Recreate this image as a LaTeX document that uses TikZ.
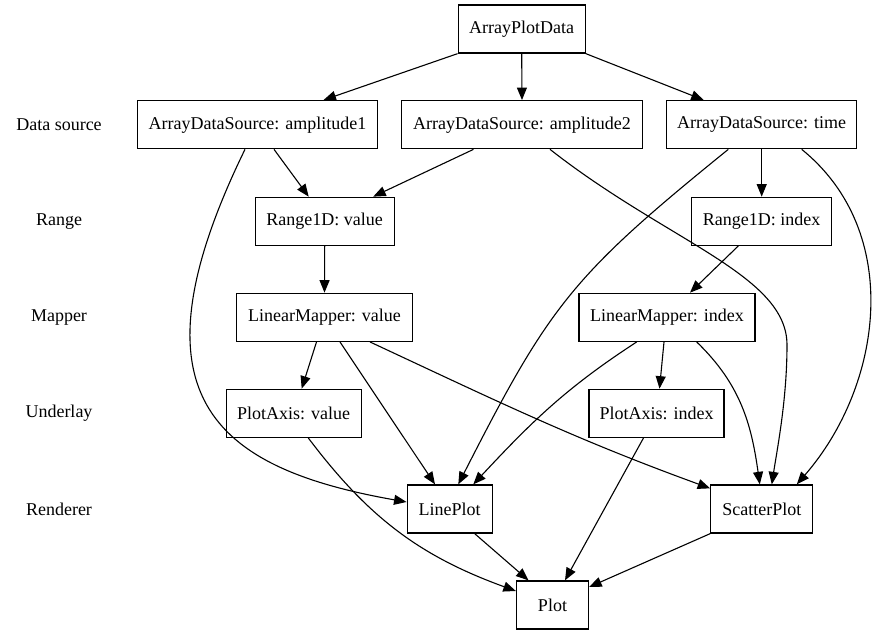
\documentclass[tikz,border=0pt]{standalone}
\usepackage{fontspec}
\setmainfont{Liberation Serif}
\usetikzlibrary{arrows.meta}

\tikzset{
  box/.style={draw, black, line width=1.3pt, inner sep=0pt, minimum height=48pt, font=\fontsize{18}{21}\selectfont},
  rowlabel/.style={font=\fontsize{18}{21}\selectfont},
  dep/.style={black, line width=1.1pt, -{Triangle[length=12.5pt,width=10pt]}}
}

\begin{document}
\begin{tikzpicture}[x=1pt, y=-1pt]
\useasboundingbox (0,0) rectangle (876,635);

% level names on the left
\foreach \lab/\y/\nm in {Data source/124.7/lsrc, Range/221.3/lrng, Mapper/317.3/lmap, Underlay/413.3/lund, Renderer/509/lren}
  \node [rowlabel] (\nm) at (59,\y) {\lab};

\node [box, minimum width=127pt] (apd) at (521.7,29) {ArrayPlotData};

\node [box, minimum width=240pt] (amp1) at (257.5,124.7) {ArrayDataSource: amplitude1};
\node [box, minimum width=241pt] (amp2) at (522,124.7) {ArrayDataSource: amplitude2};
\node [box, minimum width=190pt] (time) at (761.7,124.7) {ArrayDataSource: time};

\node [box, minimum width=139pt] (rval) at (324.7,221.3) {Range1D: value};
\node [box, minimum width=140pt] (rind) at (761.7,221.3) {Range1D: index};

\node [box, minimum width=176pt] (lmval) at (324.5,317.3) {LinearMapper: value};
\node [box, minimum width=176pt] (lmind) at (667,317.3) {LinearMapper: index};

\node [box, minimum width=135pt] (pav) at (293.7,413.3) {PlotAxis: value};
\node [box, minimum width=135pt] (pai) at (656.5,413.3) {PlotAxis: index};

\node [box, minimum width=85pt] (lp) at (449.7,509) {LinePlot};
\node [box, minimum width=102pt] (sp) at (761.8,509) {ScatterPlot};

\node [box, minimum width=72pt] (plot) at (552.5,605) {Plot};

% data sources
\draw [dep] (apd.south west) -- ([xshift=66pt]amp1.north);
\draw [dep] (apd.south) -- (amp2.north);
\draw [dep] (apd.south east) -- ([xshift=-58pt]time.north);

% ranges
\draw [dep] ([xshift=16.5pt]amp1.south) -- ([xshift=-16pt]rval.north);
\draw [dep] ([xshift=-48.5pt]amp2.south) -- ([xshift=48.5pt]rval.north);
\draw [dep] (time.south) -- (rind.north);

% sources straight to renderers
\draw [dep] ([xshift=-12.5pt]amp1.south) to[out=244, in=170, out looseness=1.8, in looseness=1.3] ([yshift=7pt]lp.west);
\draw [dep] ([xshift=28pt]amp2.south) .. controls (668,242) and (787,275) .. (787,345)
  .. controls (787,400) and (777,450) .. ([xshift=10pt]sp.north);
\draw [dep] ([xshift=-33.4pt]time.south) to[out=219, in=63, looseness=1.2] ([xshift=8.6pt]lp.north);
\draw [dep] ([xshift=40pt]time.south) to[out=321, in=49] ([xshift=35pt]sp.north);

% mappers
\draw [dep] (rval.south) -- (lmval.north);
\draw [dep] ([xshift=-23.4pt]rind.south) -- ([xshift=23pt]lmind.north);

% underlays and renderers
\draw [dep] ([xshift=-8pt]lmval.south) -- ([xshift=8pt]pav.north);
\draw [dep] ([xshift=15.5pt]lmval.south) -- ([xshift=-14.7pt]lp.north);
\draw [dep] ([xshift=45.5pt]lmval.south) to[out=335, in=160] ([yshift=-4pt]sp.north west);
\draw [dep] ([xshift=-30.3pt]lmind.south) to[out=213, in=47] ([xshift=23.6pt]lp.north);
\draw [dep] ([xshift=-3pt]lmind.south) -- ([xshift=3pt]pai.north);
\draw [dep] ([xshift=29.7pt]lmind.south) to[out=316, in=98] ([xshift=-2pt]sp.north);

% plot
\draw [dep] ([xshift=14.6pt]pav.south) to[out=307, in=160] ([yshift=14pt]plot.west);
\draw [dep] ([xshift=-13pt]pai.south) -- ([xshift=12.5pt]plot.north);
\draw [dep] ([xshift=25pt]lp.south) -- ([xshift=-24pt]plot.north);
\draw [dep] (sp.south west) -- ([yshift=18pt]plot.east);
\end{tikzpicture}
\end{document}
